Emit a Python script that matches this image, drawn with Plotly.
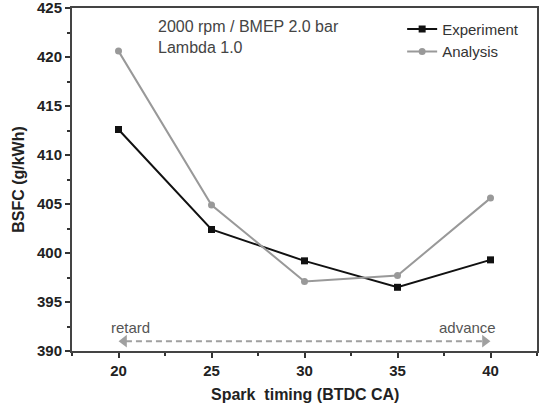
import plotly.graph_objects as go

spark = [20, 25, 30, 35, 40]
experiment = [412.6, 402.4, 399.2, 396.5, 399.3]
analysis = [420.6, 404.9, 397.1, 397.7, 405.6]
x_ticks = [20, 25, 30, 35, 40]
y_ticks = [390, 395, 400, 405, 410, 415, 420, 425]

FONT = "Liberation Sans, Arial, sans-serif"

fig = go.Figure()

# retard/advance arrow (dashed) near the bottom
fig.add_trace(go.Scatter(
    x=[20.4, 39.6], y=[391.0, 391.0], mode="lines",
    line=dict(color="#a0a0a0", width=2, dash="6px,4px"),
    showlegend=False, hoverinfo="skip"))
fig.add_trace(go.Scatter(
    x=[20.3, 39.7], y=[391.0, 391.0], mode="markers",
    marker=dict(symbol=["triangle-left", "triangle-right"], size=11, color="#a0a0a0"),
    showlegend=False, hoverinfo="skip"))

fig.add_trace(go.Scatter(
    x=spark, y=experiment, name="Experiment", mode="lines+markers",
    line=dict(color="#111111", width=2),
    marker=dict(symbol="square", size=7, color="#111111")))
fig.add_trace(go.Scatter(
    x=spark, y=analysis, name="Analysis", mode="lines+markers",
    line=dict(color="#999999", width=2),
    marker=dict(symbol="circle", size=7, color="#999999")))

fig.add_annotation(x=0.181, y=0.977, xref="paper", yref="paper", xanchor="left", yanchor="top",
                   text="2000 rpm / BMEP 2.0 bar<br>Lambda 1.0", showarrow=False, align="left",
                   font=dict(family=FONT, size=16, color="#444444"))
fig.add_annotation(x=20.65, y=392.35, text="retard", showarrow=False,
                   font=dict(family=FONT, size=15, color="#555555"))
fig.add_annotation(x=38.75, y=392.35, text="advance", showarrow=False,
                   font=dict(family=FONT, size=15, color="#555555"))
# x-axis title
fig.add_annotation(x=0.5, y=-0.126, xref="paper", yref="paper", xanchor="center", yanchor="middle",
                   text="Spark  timing (BTDC CA)", showarrow=False,
                   font=dict(family=FONT, size=16, color="#222", weight="bold"))

fig.update_layout(
    width=539, height=405,
    margin=dict(l=72, r=2, t=8, b=54),
    paper_bgcolor="white", plot_bgcolor="white",
    font=dict(family=FONT, color="#222222"),
    legend=dict(x=0.71, y=0.986, xanchor="left", yanchor="top",
                bgcolor="rgba(0,0,0,0)", font=dict(family=FONT, size=15, color="#333333"),
                tracegroupgap=0, itemwidth=30),
    xaxis=dict(range=[17.5, 42.5], tickvals=x_ticks, ticks="outside", ticklen=5,
               tickwidth=1.5, tickcolor="#333", showline=True, linecolor="#444",
               linewidth=2, mirror=True, showgrid=False, zeroline=False,
               ticklabeloverflow="allow", automargin=False,
               minor=dict(dtick=2.5, ticks="outside", ticklen=3, tickcolor="#333", tick0=17.5),
               tickfont=dict(family=FONT, size=15, color="#222", weight="bold")),
    yaxis=dict(range=[390, 425], tickvals=y_ticks, ticks="outside", ticklen=5,
               tickwidth=1.5, tickcolor="#333", showline=True, linecolor="#444",
               linewidth=2, mirror=True, showgrid=False, zeroline=False,
               ticklabeloverflow="allow", automargin=False,
               minor=dict(dtick=2.5, ticks="outside", ticklen=3, tickcolor="#333"),
               tickfont=dict(family=FONT, size=15, color="#222", weight="bold"),
               title=dict(text="BSFC (g/kWh)", standoff=8,
                          font=dict(family=FONT, size=16, color="#222", weight="bold"))),
)

fig.write_html("out.html")
